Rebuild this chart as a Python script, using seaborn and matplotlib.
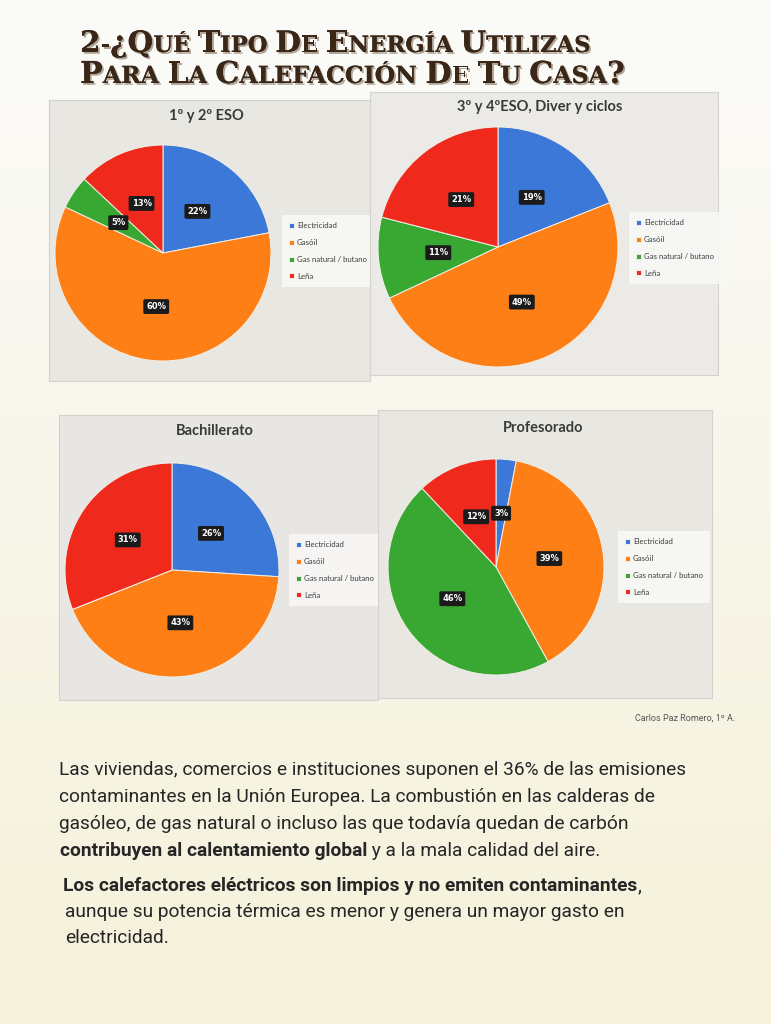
import numpy as np
import matplotlib
matplotlib.use('Agg')
import matplotlib.pyplot as plt
import matplotlib.patheffects as pe
from matplotlib.colors import LinearSegmentedColormap
import seaborn as sns

# ---------------- data ----------------
categories = ['Electricidad', 'Gasóil', 'Gas natural / butano', 'Leña']
group_titles = ['1º y 2º ESO', '3º y 4ºESO, Diver y ciclos', 'Bachillerato', 'Profesorado']
eso_1_2 = [22, 60, 5, 13]
eso_3_4 = [19, 49, 11, 21]
bachillerato = [26, 43, 0, 31]
profesorado = [3, 39, 46, 12]
series = [eso_1_2, eso_3_4, bachillerato, profesorado]

title_lines = ['2-¿Qué Tipo De Energía Utilizas', 'Para La Calefacción De Tu Casa?']
author = 'Carlos Paz Romero, 1º A.'

# ---------------- style ----------------
sns.set_theme(style='white')
plt.rcParams['font.family'] = ['DejaVu Sans']
colors = ['#3b78d8', '#ff7f17', '#38a833', '#f0291d']

W, H = 771, 1024
fig = plt.figure(figsize=(W / 100, H / 100), dpi=100)
renderer = fig.canvas.get_renderer()


def fx(x):
    return x / W


def fy(y):
    return 1 - y / H


# page background
bg = fig.add_axes([0, 0, 1, 1])
bg.axis('off')
grad = np.linspace(0, 1, 256)[:, None]
cmap = LinearSegmentedColormap.from_list('page', ['#fbfbf9', '#f8f6ea', '#f5f1da'])
bg.imshow(grad, aspect='auto', cmap=cmap, extent=[0, 1, 0, 1])
bg.set_xlim(0, 1)
bg.set_ylim(0, 1)


def run_text(x_px, y_px, pieces, **common):
    """Draw consecutive text pieces on one baseline; pieces = [(text, kwargs)]."""
    x = x_px
    for s, kw in pieces:
        t = fig.text(fx(x), fy(y_px), s, va='baseline', ha='left', **common, **kw)
        bb = t.get_window_extent(renderer)
        x += bb.width
    return x


# title in small caps
shadow = [pe.withSimplePatchShadow(offset=(1.3, -1.3), shadow_rgbFace='#a89c8c', alpha=0.9), pe.Normal()]
for line, yb, big, small in zip(title_lines, [52, 83], [21.3, 21.8], [16.3, 17.0]):
    pieces = []
    for ch in line:
        if ch.isupper() or ch.isdigit() or ch in '¿?':
            pieces.append((ch, dict(fontsize=big)))
        else:
            pieces.append((ch.upper(), dict(fontsize=small)))
    merged = []
    for s, kw in pieces:
        if merged and merged[-1][1]['fontsize'] == kw['fontsize']:
            merged[-1] = (merged[-1][0] + s, kw)
        else:
            merged.append((s, kw))
    run_text(80, yb, merged, family='DejaVu Serif', weight='bold', color='#3a2718',
             path_effects=shadow)

# panel layouts: rect (x0, y0, x1, y1), pie centre, radius, title pos, legend pos, bg colour
layouts = [
    dict(rect=(49, 100, 370, 381), c=(163, 253), r=108, t=(206, 116), lg=(282, 251), fc='#e8e7e2'),
    dict(rect=(370, 92, 718, 375), c=(498, 247), r=120, t=(540, 107), lg=(629, 248), fc='#ebeae6'),
    dict(rect=(59, 415, 378, 700), c=(172, 570), r=107, t=(215, 431), lg=(289, 570), fc='#e7e6e2'),
    dict(rect=(378, 410, 712, 698), c=(496, 567), r=108, t=(543, 428), lg=(618, 567), fc='#e8e7e1'),
]

for vals, ttl, L in zip(series, group_titles, layouts):
    x0, y0, x1, y1 = L['rect']
    pa = fig.add_axes([fx(x0), fy(y1), (x1 - x0) / W, (y1 - y0) / H])
    pa.set_facecolor(L['fc'])
    pa.set_xticks([])
    pa.set_yticks([])
    for s in pa.spines.values():
        s.set_color('#d4d2cc')
        s.set_linewidth(0.8)

    fig.text(fx(L['t'][0]), fy(L['t'][1]), ttl, family='Lato', weight='bold', fontsize=10.5,
             color='#3a3a3a', ha='center', va='center')

    cx, cy = L['c']
    r = L['r']
    ax = fig.add_axes([fx(cx - r), fy(cy + r), 2 * r / W, 2 * r / H])
    wedges, texts, autotexts = ax.pie(
        vals, colors=colors, startangle=90, counterclock=False,
        autopct=lambda p: f'{p:.0f}%' if p > 0.5 else '', pctdistance=0.5,
        wedgeprops=dict(linewidth=0.7, edgecolor='#f1efe6'))
    ax.set_xlim(-1, 1)
    ax.set_ylim(-1, 1)
    ax.set_aspect('equal')
    ax.axis('off')
    for t in autotexts:
        t.set_color('white')
        t.set_fontsize(6)
        t.set_fontweight('bold')
        t.set_bbox(dict(boxstyle='round,pad=0.35,rounding_size=0.2', fc='#1b1b1b', ec='none'))

    leg = ax.legend(wedges, categories, loc='center left',
                    bbox_to_anchor=(fx(L['lg'][0]), fy(L['lg'][1])),
                    bbox_transform=fig.transFigure, frameon=True,
                    prop=dict(family='Lato', size=5.6),
                    fancybox=False, handlelength=0.6, handleheight=0.6, handletextpad=0.4,
                    labelspacing=1.25, borderpad=0.9, borderaxespad=0)
    leg.get_frame().set_facecolor('#fafaf8')
    leg.get_frame().set_edgecolor('none')
    for t in leg.get_texts():
        t.set_color('#3c3c3c')

# author
fig.text(fx(735), fy(718), author, family='Roboto', fontsize=6.5, color='#555555',
         ha='right', va='center')

# paragraph text
fs = 13.8
txt_kw = dict(family='Roboto', fontsize=fs, color='#262626', va='baseline')
base = [775, 802, 829, 856, 891, 917, 943]
fig.text(fx(59), fy(base[0]), 'Las viviendas, comercios e instituciones suponen el 36% de las emisiones', **txt_kw)
fig.text(fx(59), fy(base[1]), 'contaminantes en la Unión Europea. La combustión en las calderas de', **txt_kw)
fig.text(fx(59), fy(base[2]), 'gasóleo, de gas natural o incluso las que todavía quedan de carbón', **txt_kw)
run_text(60, base[3], [('contribuyen al calentamiento global', dict(weight='bold')),
                       (' y a la mala calidad del aire.', dict())],
         family='Roboto', fontsize=fs, color='#262626')
run_text(63, base[4], [('Los calefactores eléctricos son limpios y no emiten contaminantes', dict(weight='bold')),
                       (',', dict())],
         family='Roboto', fontsize=fs, color='#262626')
fig.text(fx(65), fy(base[5]), 'aunque su potencia térmica es menor y genera un mayor gasto en', **txt_kw)
fig.text(fx(65), fy(base[6]), 'electricidad.', **txt_kw)

fig.savefig('out.png', dpi=100)
